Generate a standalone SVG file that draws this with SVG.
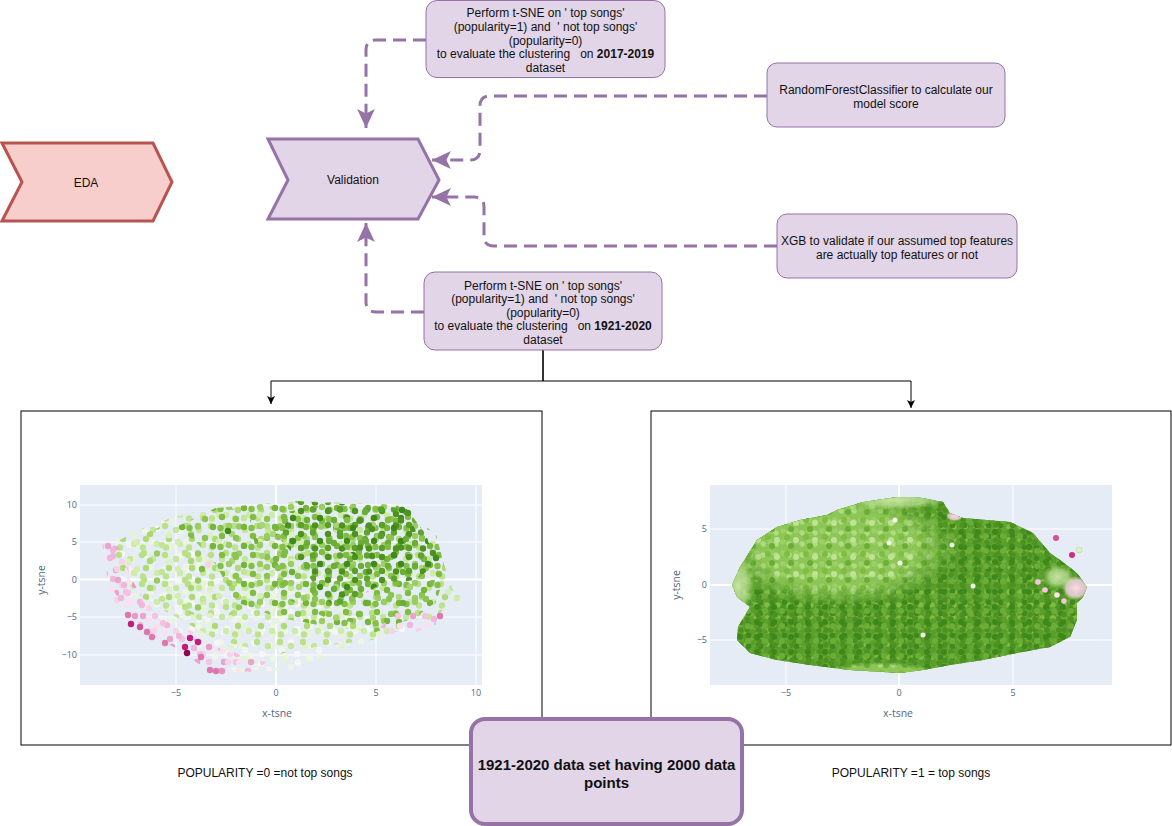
<svg xmlns="http://www.w3.org/2000/svg" width="1172" height="826" viewBox="0 0 1172 826">
<style>
.box{fill:#e1d5e7;stroke:#9673a6;stroke-width:1}
.t{font-family:"Liberation Sans",Arial,Helvetica,sans-serif;font-size:12px;fill:#111;text-anchor:middle}
.dash{fill:none;stroke:#9673a6;stroke-width:3;stroke-dasharray:13 7}
.blk{fill:none;stroke:#000;stroke-width:1}
.frame{fill:#fff;stroke:#000;stroke-width:1}
.bg{fill:#e5ecf6}
.grid{stroke:#fff;stroke-width:1;fill:none}
.tick{font-family:"Open Sans","Liberation Sans",sans-serif;font-size:9px;fill:#506784}
.axt{font-family:"Open Sans","Liberation Sans",sans-serif;font-size:10.5px;fill:#506784;text-anchor:middle}
</style>
<defs>
<marker id="pa" markerUnits="userSpaceOnUse" markerWidth="20" markerHeight="20" viewBox="0 -9 18 18" refX="17" refY="0" orient="auto">
<path d="M0,-8 L17,0 L0,8 L4,0 z" fill="#9673a6"/>
</marker>
<marker id="ba" markerUnits="userSpaceOnUse" markerWidth="10" markerHeight="10" viewBox="0 -5 9 10" refX="8" refY="0" orient="auto">
<path d="M0,-4 L8,0 L0,4 L2,0 z" fill="#000"/>
</marker>
<!-- left plot patterns -->
<pattern id="pDG" width="27" height="23" patternUnits="userSpaceOnUse">
<circle cx="4" cy="5" r="3.2" fill="#4d9221"/><circle cx="16" cy="3.5" r="3.2" fill="#5fa42f"/><circle cx="23" cy="12" r="3.2" fill="#3f8a1c"/><circle cx="10" cy="14" r="3.2" fill="#6aad37"/><circle cx="18" cy="19.5" r="3.2" fill="#4d9221"/><circle cx="4" cy="19" r="3.2" fill="#5a9e2b"/>
</pattern>
<pattern id="pDG2" x="7" y="11" width="41" height="27" patternUnits="userSpaceOnUse">
<circle cx="5" cy="12" r="3.2" fill="#57a02a"/><circle cx="18" cy="4" r="3.2" fill="#3d8a1a"/><circle cx="30" cy="15" r="3.2" fill="#6aad37"/><circle cx="37" cy="5" r="3.2" fill="#4d9221"/><circle cx="12" cy="23" r="3.2" fill="#7fbc41"/><circle cx="25" cy="23.5" r="3.2" fill="#4d9221"/>
</pattern>
<pattern id="pMG" width="31" height="19" patternUnits="userSpaceOnUse">
<circle cx="5" cy="4" r="3.2" fill="#7fbc41"/><circle cx="19" cy="6" r="3.2" fill="#8cc452"/><circle cx="27" cy="14" r="3.2" fill="#75b53a"/><circle cx="12" cy="13" r="3.2" fill="#9acd62"/><circle cx="3.5" cy="15" r="3.2" fill="#84bf48"/>
</pattern>
<pattern id="pMG2" x="13" y="5" width="37" height="31" patternUnits="userSpaceOnUse">
<circle cx="6" cy="5" r="3.2" fill="#8cc452"/><circle cx="20" cy="9" r="3.2" fill="#6aad37"/><circle cx="32" cy="4" r="3.2" fill="#9acd62"/><circle cx="13" cy="20" r="3.2" fill="#7fbc41"/><circle cx="27" cy="24" r="3.2" fill="#a6d473"/><circle cx="4" cy="27" r="3.2" fill="#76b63b"/>
</pattern>
<pattern id="pLG" width="23" height="29" patternUnits="userSpaceOnUse">
<circle cx="4" cy="4" r="3.2" fill="#b8e186"/><circle cx="15" cy="8" r="3.2" fill="#c5e79a"/><circle cx="8" cy="17" r="3.2" fill="#aedb78"/><circle cx="19" cy="22" r="3.2" fill="#cdebab"/><circle cx="5" cy="25.5" r="3.2" fill="#bde38e"/>
</pattern>
<pattern id="pLG2" x="9" y="17" width="41" height="27" patternUnits="userSpaceOnUse">
<circle cx="5" cy="12" r="3.2" fill="#d3edb4"/><circle cx="18" cy="4" r="3.2" fill="#a9d873"/><circle cx="30" cy="15" r="3.2" fill="#c2e596"/><circle cx="37" cy="5" r="3.2" fill="#dcf0c4"/><circle cx="12" cy="23" r="3.2" fill="#b8e186"/><circle cx="25" cy="23.5" r="3.2" fill="#98cc60"/>
</pattern>
<pattern id="pWH" width="35" height="25" patternUnits="userSpaceOnUse">
<circle cx="5" cy="6" r="3.2" fill="#f1f6ea"/><circle cx="17" cy="4" r="3.2" fill="#f7f7f7"/><circle cx="28" cy="9" r="3.2" fill="#e6f5d0"/><circle cx="11" cy="17" r="3.2" fill="#eef5e6"/><circle cx="24" cy="20" r="3.2" fill="#f4f2f3"/><circle cx="31.5" cy="21" r="3.2" fill="#e9f4dc"/>
</pattern>
<pattern id="pWH2" x="19" y="3" width="37" height="31" patternUnits="userSpaceOnUse">
<circle cx="6" cy="5" r="3.2" fill="#e6f5d0"/><circle cx="20" cy="9" r="3.2" fill="#f4f7ef"/><circle cx="32" cy="4" r="3.2" fill="#eef6e4"/><circle cx="13" cy="20" r="3.2" fill="#f7f4f6"/><circle cx="27" cy="24" r="3.2" fill="#e2f2cc"/><circle cx="4" cy="27" r="3.2" fill="#f3f6ee"/>
</pattern>
<pattern id="pPK" width="27" height="23" patternUnits="userSpaceOnUse">
<circle cx="5" cy="4" r="3.2" fill="#f1b6da"/><circle cx="14" cy="10" r="3.2" fill="#f7d3e8"/><circle cx="22" cy="5" r="3.2" fill="#fde0ef"/><circle cx="8" cy="18" r="3.2" fill="#eaa3cc"/><circle cx="20" cy="18" r="3.2" fill="#f5c4e0"/>
</pattern>
<pattern id="pPK2" x="11" y="7" width="37" height="31" patternUnits="userSpaceOnUse">
<circle cx="6" cy="5" r="3.2" fill="#fbe0ee"/><circle cx="20" cy="9" r="3.2" fill="#f1b6da"/><circle cx="32" cy="4" r="3.2" fill="#f7d3e8"/><circle cx="13" cy="20" r="3.2" fill="#e89ac6"/><circle cx="27" cy="24" r="3.2" fill="#fde0ef"/><circle cx="4" cy="27" r="3.2" fill="#f4c0de"/>
</pattern>
<!-- right plot patterns -->
<pattern id="pRD" width="12" height="11" patternUnits="userSpaceOnUse">
<circle cx="3" cy="3" r="2.8" fill="#4d9221"/><circle cx="9" cy="5" r="2.8" fill="#58a02a"/><circle cx="4.5" cy="8.2" r="2.8" fill="#3f8a1c"/>
</pattern>
<pattern id="pRD2" x="5" y="3" width="17" height="15" patternUnits="userSpaceOnUse">
<circle cx="4" cy="4" r="3" fill="#3d881a"/><circle cx="12" cy="8" r="3" fill="#6aad37"/><circle cx="5" cy="12" r="2.8" fill="#4d9221"/>
</pattern>
<pattern id="pRM" width="11" height="13" patternUnits="userSpaceOnUse">
<circle cx="3" cy="3" r="2.8" fill="#6fae3a"/><circle cx="8" cy="7" r="2.8" fill="#7fbc41"/><circle cx="3" cy="10" r="2.8" fill="#62a732"/>
</pattern>
<pattern id="pRL" width="13" height="11" patternUnits="userSpaceOnUse">
<circle cx="3" cy="3" r="2.8" fill="#9ccf68"/><circle cx="9" cy="5" r="2.8" fill="#b0db7e"/><circle cx="5" cy="8" r="2.8" fill="#8cc657"/>
</pattern>
<pattern id="pRL2" x="4" y="6" width="19" height="17" patternUnits="userSpaceOnUse">
<circle cx="4" cy="4" r="3" fill="#7fbc41"/><circle cx="13" cy="7" r="3" fill="#bfe393"/><circle cx="8" cy="13" r="3" fill="#6aad37"/>
</pattern>
<radialGradient id="gFade" cx="0.5" cy="0.5" r="0.5">
<stop offset="0" stop-color="#fff"/><stop offset="0.65" stop-color="#fff"/><stop offset="1" stop-color="#000"/>
</radialGradient>
<radialGradient id="gEdge" cx="0.5" cy="0.5" r="0.5">
<stop offset="0" stop-color="#cbe8a8" stop-opacity="0.95"/><stop offset="0.6" stop-color="#c0e398" stop-opacity="0.7"/><stop offset="1" stop-color="#b8e186" stop-opacity="0"/>
</radialGradient>
<radialGradient id="gPink" cx="0.5" cy="0.5" r="0.5">
<stop offset="0" stop-color="#fbd9ea" stop-opacity="1"/><stop offset="0.7" stop-color="#f7d0e4" stop-opacity="0.8"/><stop offset="1" stop-color="#f7d0e4" stop-opacity="0"/>
</radialGradient>
<mask id="mLight" maskUnits="userSpaceOnUse" x="700" y="480" width="420" height="210">
<rect x="700" y="480" width="420" height="210" fill="#000"/>
<ellipse cx="838" cy="548" rx="120" ry="58" fill="url(#gFade)"/>
<ellipse cx="880" cy="672" rx="55" ry="10" fill="url(#gFade)"/>
</mask>
<clipPath id="blobClip">
<path d="M732,585 L740,567 L757,540 L777,527 L800,520 L827,515 L837,510 L863,502 L897,497 L917,497 L943,502 L950,513 L963,518 L1010,522 L1033,533 L1050,553 L1060,560 L1077,573 L1087,587 L1083,597 L1077,603 L1077,620 L1070,637 L1050,647 L1017,653 L983,660 L950,665 L923,670 L900,673 L850,670 L810,665 L777,660 L750,653 L737,640 L738,627 L750,607 L737,597 Z"/>
</clipPath>
<clipPath id="lClip"><rect x="80" y="485" width="402" height="200"/></clipPath>
</defs>
<rect width="1172" height="826" fill="#fff"/>

<g id="connectors">
<path class="dash" d="M426,40 H376 Q366,40 366,50 V128" marker-end="url(#pa)"/>
<path class="dash" d="M767,96 H490 Q480,96 480,106 V150 Q480,160 470,160 H432" marker-end="url(#pa)"/>
<path class="dash" d="M777,246 H494 Q484,246 484,236 V207 Q484,197 474,197 H432" marker-end="url(#pa)"/>
<path class="dash" d="M424,312 H376 Q366,312 366,302 V223" marker-end="url(#pa)"/>
<path d="M543,350 V381" fill="none" stroke="#333" stroke-width="2"/>
<path class="blk" d="M271,381 H911"/>
<path class="blk" d="M271,381 V404" marker-end="url(#ba)"/>
<path class="blk" d="M911,381 V408" marker-end="url(#ba)"/>
</g>

<g id="tsne2017">
<rect class="box" x="426" y="0.5" width="239" height="77" rx="11"/>
<text class="t" xml:space="preserve"><tspan x="545.5" y="17">Perform t-SNE on ' top songs'</tspan><tspan x="545.5" y="30.8">(popularity=1) and  ' not top songs'</tspan><tspan x="545.5" y="44.5">(popularity=0)</tspan><tspan x="545.5" y="58.2">to evaluate the clustering   on <tspan font-weight="bold">2017-2019</tspan></tspan><tspan x="545.5" y="72">dataset</tspan></text>
</g>

<g id="rf">
<rect class="box" x="767" y="63" width="238" height="64" rx="10"/>
<text class="t"><tspan x="886" y="94.3">RandomForestClassifier to calculate our</tspan><tspan x="886" y="107.8">model score</tspan></text>
</g>

<g id="xgb">
<rect class="box" x="777" y="214" width="240" height="64" rx="10"/>
<text class="t"><tspan x="897" y="245.3">XGB to validate if our assumed top features</tspan><tspan x="897" y="259">are actually top features or not</tspan></text>
</g>

<g id="eda">
<polygon points="2,143 153,143 172,182 153,221 2,221 22,182" fill="#f8cecc" stroke="#b85450" stroke-width="3"/>
<text class="t" x="86" y="186.5">EDA</text>
</g>

<g id="validation">
<polygon points="268,139 418,139 439,180 418,219 268,219 288,180" fill="#e1d5e7" stroke="#9673a6" stroke-width="3"/>
<text class="t" x="353" y="184">Validation</text>
</g>

<g id="tsne1921">
<rect class="box" x="424" y="272" width="238" height="78" rx="11"/>
<text class="t" xml:space="preserve"><tspan x="543" y="289.5">Perform t-SNE on ' top songs'</tspan><tspan x="543" y="303">(popularity=1) and  ' not top songs'</tspan><tspan x="543" y="316.5">(popularity=0)</tspan><tspan x="543" y="330">to evaluate the clustering   on <tspan font-weight="bold">1921-2020</tspan></tspan><tspan x="543" y="343.5">dataset</tspan></text>
</g>

<g id="plot0">
<rect class="frame" x="21" y="411" width="521" height="334"/>
<rect class="bg" x="80" y="485" width="402" height="200"/>
<path class="grid" d="M176,485V685M276,485V685M376,485V685M476,485V685M80,505H482M80,542H482M80,579.5H482M80,617H482M80,655H482"/>
<path d="M276,485V685M80,579.5H482" stroke="#fff" stroke-width="2"/>
<g clip-path="url(#lClip)">
<path fill="url(#pWH)" d="M116,534.5 L176,516 L196,549.5 L236,572 L316,594.5 L376,617 L416,624.5 L396,639.5 L336,647 L296,669.5 L236,673 L196,647 L156,617 L126,594.5 L116,564.5 Z"/>
<path fill="url(#pWH2)" d="M150,600 L200,560 L260,585 L330,610 L380,625 L340,650 L300,668 L240,670 L200,640 Z"/>
<path fill="url(#pLG)" d="M136,531 L176,516 L236,504.5 L316,501 L376,504.5 L436,542 L456,598 L436,617 L376,639.5 L316,647 L276,654.5 L216,639.5 L176,617 L136,594.5 L116,564.5 L116,542 Z"/>
<path fill="url(#pLG2)" d="M130,540 L176,520 L236,508 L300,504 L330,530 L300,570 L260,600 L220,620 L180,612 L140,590 L120,560 Z"/>
<path fill="url(#pMG)" d="M216,508 L296,501 L396,504.5 L436,534.5 L446,572 L436,602 L416,617 L376,632 L316,624.5 L276,617 L236,602 L216,564.5 L196,542 L176,527 Z"/>
<path fill="url(#pMG2)" d="M250,520 L320,505 L400,510 L440,560 L430,600 L390,625 L330,620 L290,600 L260,570 Z"/>
<path fill="url(#pDG)" d="M296,501 L406,508 L426,534.5 L436,564.5 L416,579.5 L376,587 L336,609.5 L316,587 L296,557 L276,534.5 Z"/>
<path fill="url(#pDG2)" d="M330,505 L405,507 L420,540 L400,560 L360,560 L335,540 Z"/>
<path fill="url(#pPK)" d="M102,542 L106,579.5 L126,609.5 L146,632 L176,647 L206,669.5 L256,672 L266,662 L236,654.5 L196,639.5 L166,621 L146,602 L130,579.5 L126,549.5 Z"/>
<path fill="url(#pPK2)" d="M104,560 L112,600 L140,630 L180,650 L230,668 L250,660 L210,640 L170,620 L140,595 L125,565 Z"/>
<path fill="url(#pPK)" d="M396,609.5 L436,613 L436,624.5 L406,636 L376,632 Z"/>
<g>
<circle cx="113" cy="550" r="3.2" fill="#f1b6da"/><circle cx="108" cy="546" r="3.2" fill="#eaa3cc"/><circle cx="110" cy="558" r="3.2" fill="#f1b6da"/>
<circle cx="118" cy="580" r="3.2" fill="#eaa3cc"/><circle cx="124" cy="585" r="3.2" fill="#f1b6da"/><circle cx="121" cy="598" r="3.2" fill="#f1b6da"/>
<circle cx="128" cy="615" r="3.2" fill="#de77ae"/><circle cx="131" cy="624" r="3.2" fill="#c51b7d"/><circle cx="140" cy="627" r="3.2" fill="#d0549a"/>
<circle cx="147" cy="632" r="3.2" fill="#de77ae"/><circle cx="152" cy="637" r="3.2" fill="#de77ae"/><circle cx="165" cy="643" r="3.2" fill="#de77ae"/>
<circle cx="190" cy="638" r="3.2" fill="#c51b7d"/><circle cx="198" cy="642" r="3.2" fill="#c51b7d"/><circle cx="185" cy="647" r="3.2" fill="#c51b7d"/>
<circle cx="187" cy="653" r="3.2" fill="#8e0152"/><circle cx="201" cy="657" r="3.2" fill="#de77ae"/><circle cx="210" cy="670" r="3.2" fill="#de77ae"/>
<circle cx="216" cy="671" r="3.2" fill="#de77ae"/><circle cx="222" cy="671" r="3.2" fill="#e693c0"/><circle cx="440" cy="616" r="3.2" fill="#de77ae"/>
<circle cx="434" cy="619" r="3.2" fill="#f1b6da"/><circle cx="448" cy="592" r="3.2" fill="#d6eeb8"/><circle cx="457" cy="598" r="3.2" fill="#cdebab"/>
<circle cx="402" cy="510" r="3.2" fill="#3f8a1c"/><circle cx="396" cy="514" r="3.2" fill="#4d9221"/><circle cx="408" cy="513" r="3.2" fill="#4d9221"/>
<circle cx="436" cy="558" r="3.2" fill="#3f8a1c"/><circle cx="433" cy="553" r="3.2" fill="#4d9221"/><circle cx="202" cy="569" r="3.2" fill="#7fbc41"/>
<circle cx="208" cy="565" r="3.2" fill="#f7d3e8"/><circle cx="235" cy="555" r="3.2" fill="#8cc452"/><circle cx="228" cy="531" r="3.2" fill="#3f8a1c"/>
</g>
</g>
<text class="tick" text-anchor="end" x="77" y="508">10</text>
<text class="tick" text-anchor="end" x="77" y="545">5</text>
<text class="tick" text-anchor="end" x="77" y="582.5">0</text>
<text class="tick" text-anchor="end" x="77" y="620">−5</text>
<text class="tick" text-anchor="end" x="77" y="658">−10</text>
<text class="tick" text-anchor="middle" x="176" y="696">−5</text>
<text class="tick" text-anchor="middle" x="276" y="696">0</text>
<text class="tick" text-anchor="middle" x="376" y="696">5</text>
<text class="tick" text-anchor="middle" x="476" y="696">10</text>
<text class="axt" x="277" y="717">x-tsne</text>
<text class="axt" transform="translate(45,580) rotate(-90)">y-tsne</text>
</g>

<g id="plot1">
<rect class="frame" x="651" y="411" width="520" height="334"/>
<rect class="bg" x="710" y="485" width="402" height="200"/>
<path class="grid" d="M786,485V685M899,485V685M1013,485V685M710,529H1112M710,585H1112M710,640H1112"/>
<path d="M899,485V685M710,585H1112" stroke="#fff" stroke-width="2"/>
<g clip-path="url(#blobClip)">
<rect x="720" y="490" width="380" height="190" fill="#599c2b"/>
<rect x="720" y="490" width="380" height="190" fill="url(#pRM)"/>
<rect x="720" y="490" width="380" height="190" fill="url(#pRD)"/>
<rect x="720" y="490" width="380" height="190" fill="url(#pRD2)"/>
<g mask="url(#mLight)">
<rect x="720" y="490" width="380" height="190" fill="#8cc657"/>
<rect x="720" y="490" width="380" height="190" fill="url(#pRL)"/>
<rect x="720" y="490" width="380" height="190" fill="url(#pRL2)"/>
</g>
<ellipse cx="738" cy="586" rx="16" ry="30" fill="url(#gEdge)"/>
<ellipse cx="895" cy="500" rx="55" ry="9" fill="url(#gEdge)"/>
<ellipse cx="955" cy="516" rx="9" ry="5" fill="url(#gPink)"/>
<ellipse cx="1076" cy="588" rx="14" ry="12" fill="url(#gPink)"/>
<ellipse cx="1058" cy="577" rx="16" ry="12" fill="url(#gEdge)"/>
<circle cx="1038" cy="582" r="2.8" fill="#f6c6e0"/><circle cx="1045" cy="590" r="2.8" fill="#f6c6e0"/><circle cx="1057" cy="595" r="2.8" fill="#fbe3ef"/><circle cx="1064" cy="601" r="2.8" fill="#f3c2dc"/>
<circle cx="889" cy="543" r="2.5" fill="#eef5e4"/><circle cx="900" cy="563" r="2.5" fill="#eef5e4"/><circle cx="973" cy="586" r="2.5" fill="#eef5e4"/><circle cx="923" cy="635" r="2.5" fill="#eef5e4"/><circle cx="895" cy="520" r="2.5" fill="#f4f8ee"/><circle cx="952" cy="545" r="2.5" fill="#eef5e4"/>
</g>
<circle cx="1056" cy="538" r="3" fill="#d44f96"/>
<circle cx="1072" cy="555" r="3" fill="#c9307f"/>
<circle cx="1079" cy="550" r="3" fill="#dbf0c4" stroke="#b8e186" stroke-width="0.6"/>
<text class="tick" text-anchor="end" x="707" y="532">5</text>
<text class="tick" text-anchor="end" x="707" y="588">0</text>
<text class="tick" text-anchor="end" x="707" y="643">−5</text>
<text class="tick" text-anchor="middle" x="786" y="696">−5</text>
<text class="tick" text-anchor="middle" x="899" y="696">0</text>
<text class="tick" text-anchor="middle" x="1013" y="696">5</text>
<text class="axt" x="898" y="717">x-tsne</text>
<text class="axt" transform="translate(680,585) rotate(-90)">y-tsne</text>
</g>

<g id="label0"><text class="t" x="265" y="777">POPULARITY =0 =not top songs</text></g>
<g id="label1"><text class="t" x="911" y="777">POPULARITY =1 = top songs</text></g>

<g id="dataset">
<rect x="471" y="719" width="271" height="105" rx="14" fill="#e1d5e7" stroke="#9673a6" stroke-width="4"/>
<text class="t" font-weight="bold" style="font-size:15px"><tspan x="606.5" y="770">1921-2020 data set having 2000 data</tspan><tspan x="606.5" y="787.5">points</tspan></text>
</g>
</svg>
